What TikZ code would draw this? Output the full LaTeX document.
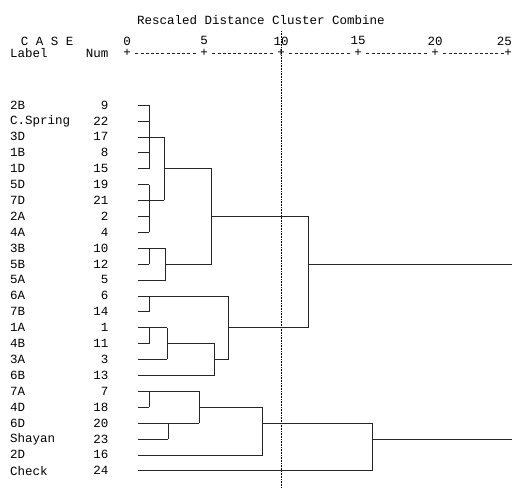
\documentclass[tikz,border=0pt]{standalone}
\usepackage{fontspec}
\setmonofont{Liberation Mono}

\begin{document}
\begin{tikzpicture}[x=15.4pt,y=-15.9pt,
    font=\ttfamily\fontsize{12.5}{13}\selectfont,
    link/.style={line width=0.6pt,color=black!85},
    casename/.style={anchor=west,inner sep=0pt},
    casenum/.style={anchor=east,inner sep=0pt}]
    % page: x in rescaled distance, y in rows
    \useasboundingbox (-8.247,-6.604) rectangle (25,24.088);

    % title and header lines
    \node (title) at (8.7,-5.35) {Rescaled Distance Cluster Combine};
    \node[casename] (case) at (-6.9,-4.03) {C A S E};
    \node[casename] (label) at (-7.6,-3.27) {Label};
    \node[casenum] (num) at (-1.2,-3.27) {Num};

    % scale 0..20, the last tick sits on the page edge
    \foreach \d in {0,5,...,20} {
        \node (tick\d) at (\d,-4.03) {\d};
        \node (plus\d) at (\d,-3.27) {+};
    }
    \node[anchor=east,inner sep=0pt] (tick25) at (25,-4.03) {25};
    \node[anchor=east,inner sep=0pt] (plus25) at (25,-3.27) {+};
    \foreach \d in {0,5,...,20}
        \draw[link,dash pattern=on 3pt off 2.2pt] ({\d+0.55},-3.27) -- ({\d+4.45},-3.27);

    % dotted cut at distance 10
    \draw[densely dotted,line width=0.6pt] (10,-4.65) -- (10,24.088);

    % case labels and numbers
    \foreach \i/\lab/\n in {0/2B/9, 1/C.Spring/22, 2/3D/17, 3/1B/8, 4/1D/15,
        5/5D/19, 6/7D/21, 7/2A/2, 8/4A/4, 9/3B/10, 10/5B/12, 11/5A/5,
        12/6A/6, 13/7B/14, 14/1A/1, 15/4B/11, 16/3A/3, 17/6B/13,
        18/7A/7, 19/4D/18, 20/6D/20, 21/Shayan/23, 22/2D/16, 23/Check/24} {
        \node[casename] (lab\i) at (-7.6,\i) {\lab};
        \node[casenum] (num\i) at (-1.2,\i) {\n};
    }

    % leaf lines: row / end
    \foreach \r/\e in {0/1.45, 1/1.45, 2/1.45, 3/1.45, 4/1.45, 5/1.45,
        6/1.45, 7/1.45, 8/1.45, 9/1.45, 10/1.45, 11/2.5, 12/1.45, 13/1.45,
        14/1.45, 15/1.45, 16/2.6, 17/5.7, 18/1.45, 19/1.45, 20/2.66,
        21/2.66, 22/8.8, 23/15.9}
        \draw[link] (0.7,\r) -- (\e,\r);

    % merges: x / first row / last row / out row / next x
    \foreach \x/\a/\b/\o/\e in {1.45/0/4/2/2.4, 1.45/5/8/6/2.4,
        2.4/2/6/4/5.5, 1.45/9/10/9/2.5, 2.5/9/11/10/5.5, 5.5/4/10/7/11.75,
        1.45/12/13/12/6.6, 1.45/14/15/14/2.6, 2.6/14/16/15/5.7,
        5.7/15/17/16/6.6, 6.6/12/16/14/11.75, 11.75/7/14/10/25,
        1.45/18/19/18/4.7, 2.66/20/21/20/4.7, 4.7/18/20/19/8.8,
        8.8/19/22/20/15.9, 15.9/20/23/21/25} {
        \draw[link] (\x,\a) -- (\x,\b);
        \draw[link] (\x,\o) -- (\e,\o);
    }
\end{tikzpicture}
\end{document}
